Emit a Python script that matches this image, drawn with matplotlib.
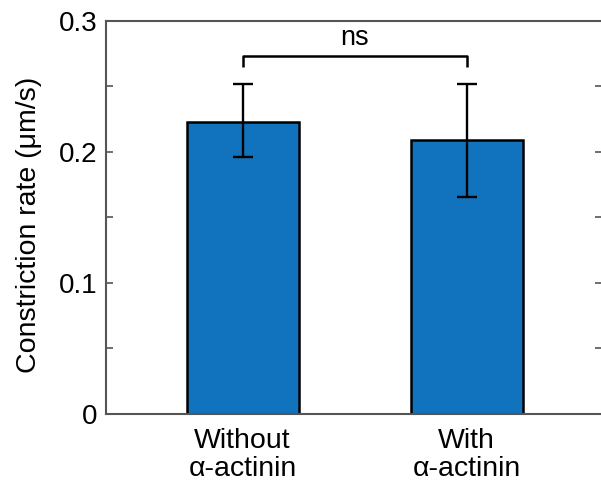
import matplotlib.pyplot as plt
import numpy as np

# === Data ===
groups = ['Without\nα-actinin', 'With\nα-actinin']
rates = [0.223, 0.209]
err_low = [0.027, 0.043]
err_high = [0.029, 0.043]
sig_label = 'ns'
sig_height = 0.273

plt.rcParams['font.family'] = ['Liberation Sans', 'DejaVu Sans']

fig = plt.figure(figsize=(6.01, 4.87), dpi=100)
ax = fig.add_axes([0.1764, 0.1499, 0.8255, 0.8070])

x = np.arange(1, len(groups) + 1)
ax.bar(x, rates, width=0.5, color='#1172BD', edgecolor='black', linewidth=1.8, zorder=2)
ax.errorbar(x, rates, yerr=[err_low, err_high], fmt='none', ecolor='black',
            elinewidth=1.7, capsize=7, capthick=1.7, zorder=3)

# significance bracket
ax.plot([x[0], x[0], x[1], x[1]], [sig_height - 0.008, sig_height, sig_height, sig_height - 0.008],
        color='black', lw=1.8, solid_capstyle='butt', zorder=3)
ax.text(x.mean(), sig_height + 0.004, sig_label, ha='center', va='bottom', fontsize=19.5)

ax.set_xlim(0.39, 2.605)
ax.set_ylim(0, 0.3)
ax.set_xticks(x)
ax.set_xticklabels(groups, fontsize=20.5, linespacing=1.1)
ax.set_yticks([0, 0.1, 0.2, 0.3])
ax.set_yticklabels(['0', '0.1', '0.2', '0.3'], fontsize=20)
ax.set_yticks([0.05, 0.15, 0.25], minor=True)
ax.tick_params(axis='y', which='both', direction='in', length=5, width=1.2,
               color='#555555', left=True, right=True, pad=6)
ax.tick_params(axis='x', length=0, pad=10)
ax.set_ylabel('Constriction rate (μm/s)', fontsize=20.5, labelpad=12)
ax.yaxis.label.set_y(0.48)

for s in ax.spines.values():
    s.set_color('#555555')
    s.set_linewidth(1.5)

fig.savefig('out.png', dpi=100)
